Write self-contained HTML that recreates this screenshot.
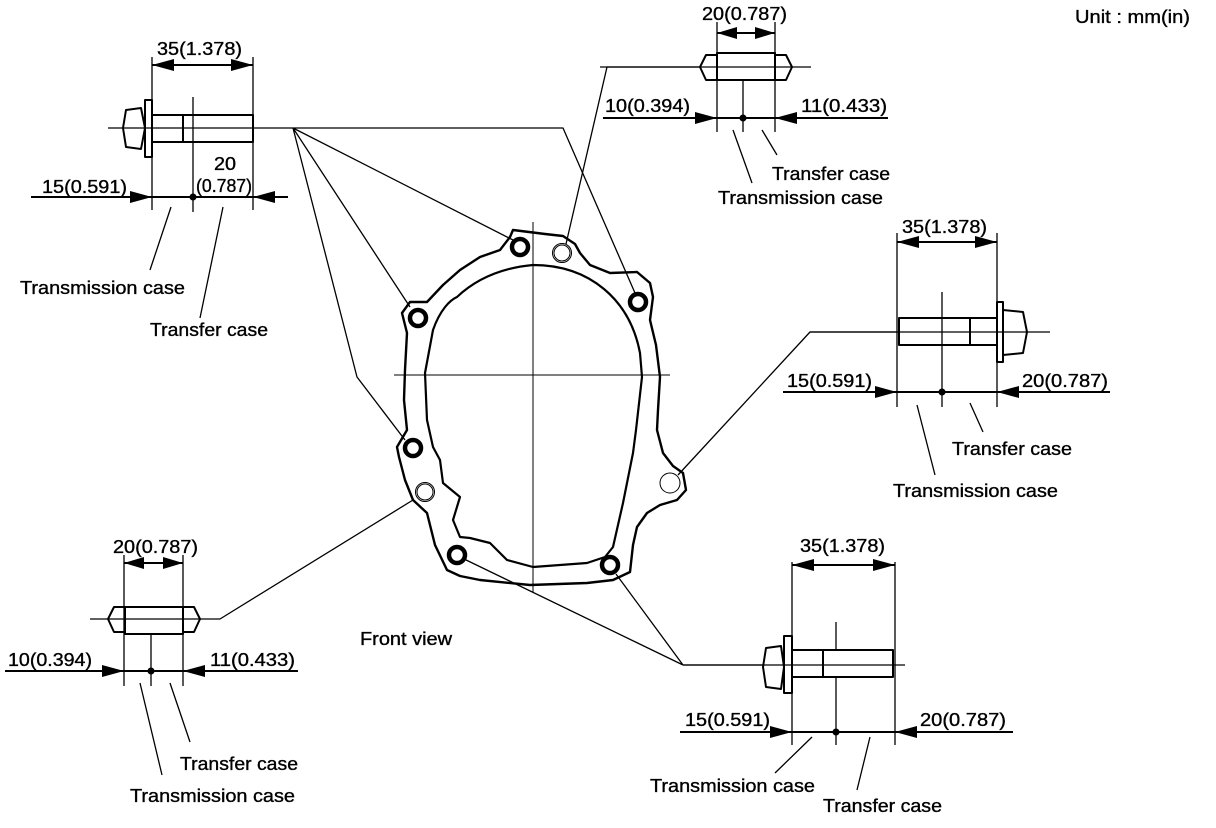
<!DOCTYPE html>
<html><head><meta charset="utf-8"><style>
html,body{margin:0;padding:0;background:#fff;}
svg{display:block;}
text{font-family:"Liberation Sans",Arial,sans-serif;font-size:18px;fill:#000;stroke:#000;stroke-width:0.35;}
</style></head><body>
<svg width="1216" height="828" viewBox="0 0 1216 828" xmlns="http://www.w3.org/2000/svg">
<g fill="none" stroke="#000" stroke-width="1.3" stroke-linejoin="round">
<!-- gasket outer -->
<path stroke-width="2.4" d="M513,230 L545,234 563,236 575,244 580,253 590,265 610,273 637,272 650,283 653,297 650,320 656,345 660,377 658,410 657,430 663,453 673,466 683,473 686,490 677,500 660,505 647,513 637,527 633,545 630,572 613,580 587,583 530,585 480,580 460,576 447,570 435,545 427,513 413,500 405,480 399,457 397,447 407,430 404,400 405,370 407,333 402,313 410,302 427,302 443,285 460,270 480,257 500,250 510,237 Z"/>
<!-- gasket inner -->
<path stroke-width="2.2" d="M533,265 C590,265 630,300 640,353 L642,377 636,430 633,453 623,503 613,547 605,557 587,563 533,567 507,560 490,543 470,538 460,537 453,520 460,497 443,483 440,460 433,447 427,420 425,373 433,330 C440,310 450,300 457,297 C475,280 500,268 533,265 Z"/>
<!-- centerlines -->
<path stroke-width="1" d="M533,222 V592 M394,375 H670"/>
<!-- holes -->
<g stroke-width="4.5"><circle cx="520" cy="247" r="8"/><circle cx="638" cy="302" r="8"/><circle cx="418" cy="318" r="8"/><circle cx="413" cy="448" r="8"/><circle cx="457" cy="555" r="8"/><circle cx="610" cy="565" r="8"/></g>
<g stroke-width="1"><circle cx="562" cy="253" r="9.5"/><circle cx="562" cy="253" r="8"/><circle cx="425" cy="492" r="9.5"/><circle cx="425" cy="492" r="8"/><circle cx="670" cy="483" r="10"/></g>
<!-- leaders -->
<path d="M293,128 L513,240 M293,128 L410,307 M293,128 L357,377 L405,440 M293,128 H563 L635,293"/>
<path d="M607,67 L566,244 M607,67 H700"/>
<path d="M678,475 L810,332 H897"/>
<path d="M200,619 H220 L413,500"/>
<path d="M683,665 L462,558 M683,665 L616,574 M683,665 H763"/>

<!-- TL bolt -->
<path d="M108,128 H293 M152,57 V210 M253,57 V210 M193,97 V212"/>
<path stroke-width="2" d="M126,110 L141,108 L145,128 141,149 126,147 123,128 Z M145,100 H152 V157 H145 Z M152,115 H253 V142 H152 M183,115 V142"/>
<path stroke-width="2" d="M31,197 H288 M152,65 H253"/>
<path d="M171,207 L150,270 M223,207 L200,318"/>

<!-- top dowel -->
<path d="M600,67 H811 M717,22 V132 M775,22 V132 M743,80 V132"/>
<path stroke-width="2" d="M700,67 L706,55 H717 V80 H706 Z M775,55 H786 L792,67 786,80 H775 Z M717,53 H775 V80 H717 Z"/>
<path stroke-width="2" d="M603,118 H888 M717,33 H775"/>
<path d="M733,130 L752,183 M762,130 L777,155"/>

<!-- right bolt -->
<path d="M810,332 H1050 M897,233 V407 M997,233 V407 M942,292 V407"/>
<path stroke-width="2" d="M899,318 H997 V345 H899 Z M970,318 V345 M997,302 H1003 V362 H997 Z M1003,310 L1023,312 L1027,332 1023,353 1003,355 Z"/>
<path stroke-width="2" d="M783,392 H1110 M897,242 H997"/>
<path d="M917,405 L935,475 M970,403 L983,432"/>

<!-- BL dowel -->
<path d="M90,619 H200 M124,555 V686 M183,555 V686 M151,634 V686"/>
<path stroke-width="2" d="M108,619 L114,607 H125 V632 H114 Z M183,607 H194 L200,619 194,632 H183 Z M125,607 H183 V634 H125 Z"/>
<path stroke-width="2" d="M5,671 H298 M124,563 H183"/>
<path d="M140,683 L162,775 M170,683 L190,742"/>

<!-- bottom bolt -->
<path d="M683,665 H905 M792,562 V745 M895,562 V745 M836,622 V650 M836,677 V745"/>
<path stroke-width="2" d="M766,648 L781,646 L784,667 781,689 766,687 763,667 Z M784,636 H792 V693 H784 Z M792,650 H893 V677 H792 M823,650 V677"/>
<path stroke-width="2" d="M680,732 H1013 M792,565 H895"/>
<path d="M812,737 L775,773 M870,737 L857,790"/>
</g>

<!-- arrowheads -->
<g fill="#000">
<polygon points="152,65 174,59 174,71"/><polygon points="253,65 231,59 231,71"/>
<polygon points="152,197 130,191 130,203"/><polygon points="253,197 275,191 275,203"/>
<circle cx="193" cy="197" r="3.5"/>
<polygon points="717,33 737,27 737,39"/><polygon points="775,33 755,27 755,39"/>
<polygon points="717,118 695,112 695,124"/><polygon points="775,118 797,112 797,124"/>
<circle cx="743" cy="118" r="3.5"/>
<polygon points="897,242 919,236 919,248"/><polygon points="997,242 975,236 975,248"/>
<polygon points="897,392 875,386 875,398"/><polygon points="997,392 1019,386 1019,398"/>
<circle cx="942" cy="392" r="3.5"/>
<polygon points="124,563 144,557 144,569"/><polygon points="183,563 163,557 163,569"/>
<polygon points="124,671 102,665 102,677"/><polygon points="183,671 205,665 205,677"/>
<circle cx="151" cy="671" r="3.5"/>
<polygon points="792,565 814,559 814,571"/><polygon points="895,565 873,559 873,571"/>
<polygon points="792,732 770,726 770,738"/><polygon points="895,732 917,726 917,738"/>
<circle cx="836" cy="732" r="3.5"/>
</g>

<!-- text -->
<g>
<text x="1075" y="23" textLength="115" lengthAdjust="spacingAndGlyphs">Unit : mm(in)</text>
<text x="157" y="55" textLength="85" lengthAdjust="spacingAndGlyphs">35(1.378)</text>
<text x="42" y="193" textLength="85" lengthAdjust="spacingAndGlyphs">15(0.591)</text>
<text x="214" y="170" textLength="22" lengthAdjust="spacingAndGlyphs">20</text>
<text x="196" y="192" textLength="56" lengthAdjust="spacingAndGlyphs">(0.787)</text>
<text x="20" y="294" textLength="165" lengthAdjust="spacingAndGlyphs">Transmission case</text>
<text x="150" y="336" textLength="118" lengthAdjust="spacingAndGlyphs">Transfer case</text>

<text x="702" y="20" textLength="85" lengthAdjust="spacingAndGlyphs">20(0.787)</text>
<text x="605" y="112" textLength="85" lengthAdjust="spacingAndGlyphs">10(0.394)</text>
<text x="801" y="112" textLength="86" lengthAdjust="spacingAndGlyphs">11(0.433)</text>
<text x="772" y="180" textLength="118" lengthAdjust="spacingAndGlyphs">Transfer case</text>
<text x="718" y="204" textLength="165" lengthAdjust="spacingAndGlyphs">Transmission case</text>

<text x="902" y="233" textLength="85" lengthAdjust="spacingAndGlyphs">35(1.378)</text>
<text x="787" y="387" textLength="85" lengthAdjust="spacingAndGlyphs">15(0.591)</text>
<text x="1022" y="387" textLength="86" lengthAdjust="spacingAndGlyphs">20(0.787)</text>
<text x="952" y="455" textLength="120" lengthAdjust="spacingAndGlyphs">Transfer case</text>
<text x="893" y="497" textLength="165" lengthAdjust="spacingAndGlyphs">Transmission case</text>

<text x="113" y="553" textLength="85" lengthAdjust="spacingAndGlyphs">20(0.787)</text>
<text x="8" y="666" textLength="84" lengthAdjust="spacingAndGlyphs">10(0.394)</text>
<text x="210" y="666" textLength="85" lengthAdjust="spacingAndGlyphs">11(0.433)</text>
<text x="180" y="770" textLength="118" lengthAdjust="spacingAndGlyphs">Transfer case</text>
<text x="130" y="802" textLength="165" lengthAdjust="spacingAndGlyphs">Transmission case</text>

<text x="360" y="645" textLength="92" lengthAdjust="spacingAndGlyphs">Front view</text>

<text x="800" y="552" textLength="85" lengthAdjust="spacingAndGlyphs">35(1.378)</text>
<text x="685" y="726" textLength="85" lengthAdjust="spacingAndGlyphs">15(0.591)</text>
<text x="920" y="726" textLength="86" lengthAdjust="spacingAndGlyphs">20(0.787)</text>
<text x="650" y="792" textLength="165" lengthAdjust="spacingAndGlyphs">Transmission case</text>
<text x="823" y="812" textLength="119" lengthAdjust="spacingAndGlyphs">Transfer case</text>
</g>
</svg>
</body></html>
